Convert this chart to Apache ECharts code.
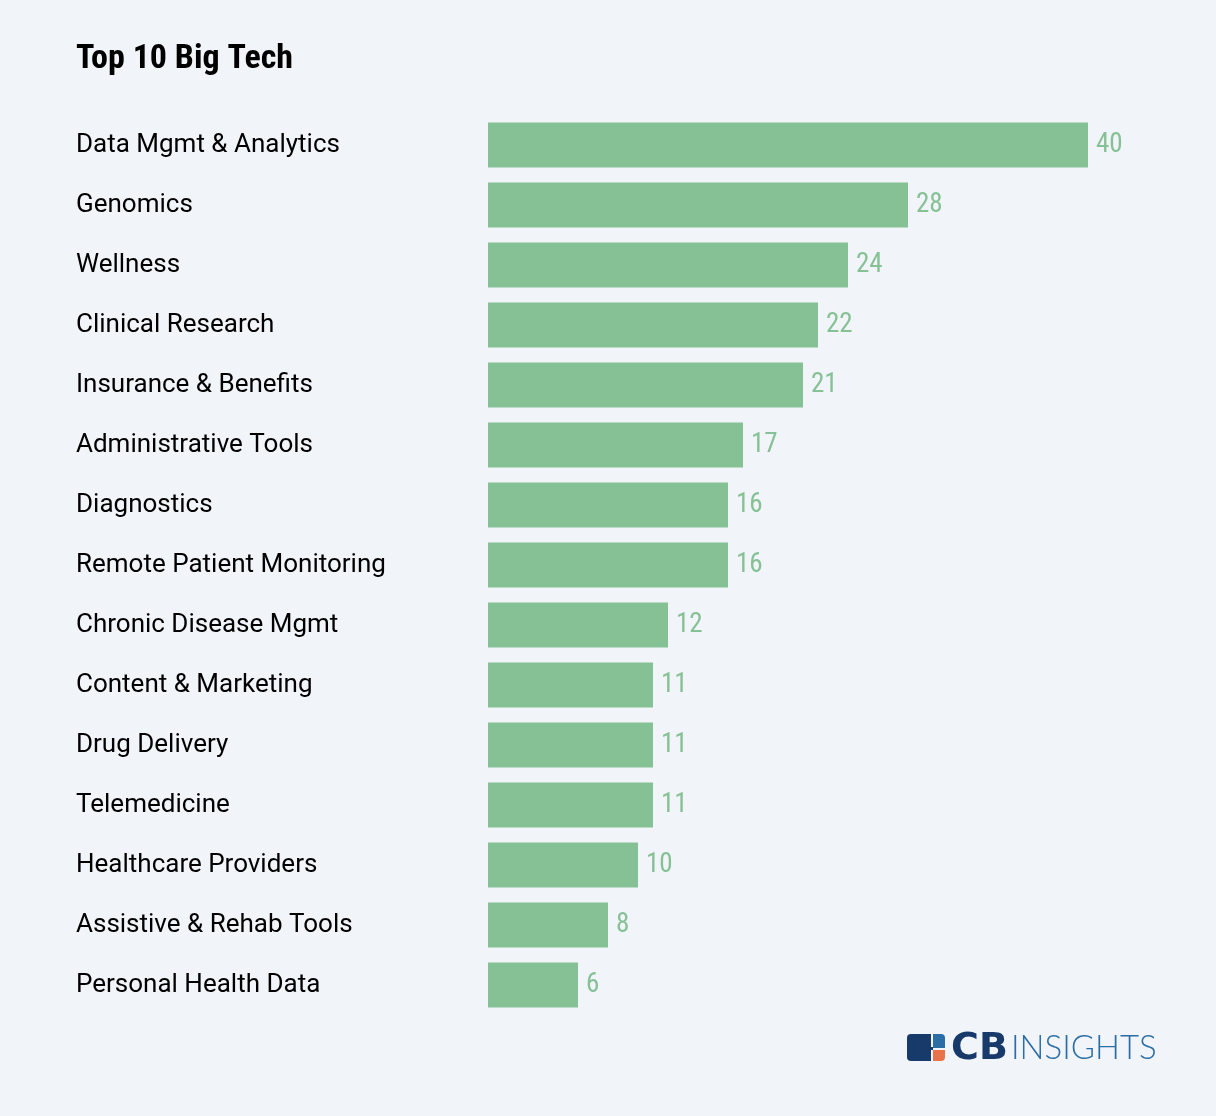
<!DOCTYPE html>
<html>
<head>
<meta charset="utf-8">
<script src="https://cdn.jsdelivr.net/npm/echarts@6/dist/echarts.min.js"></script>
<style>
html,body{margin:0;padding:0;background:#f1f4f8;}
#chart{width:1216px;height:1116px;}
</style>
</head>
<body>
<div id="chart"></div>
<script>
const title = 'Top 10 Big Tech';
const categories = ['Data Mgmt & Analytics','Genomics','Wellness','Clinical Research','Insurance & Benefits','Administrative Tools','Diagnostics','Remote Patient Monitoring','Chronic Disease Mgmt','Content & Marketing','Drug Delivery','Telemedicine','Healthcare Providers','Assistive & Rehab Tools','Personal Health Data'];
const values = [40,28,24,22,21,17,16,16,12,11,11,11,10,8,6];

const condensed = '"Roboto Condensed","DejaVu Sans Condensed","Liberation Sans Narrow",sans-serif';
const chart = echarts.init(document.getElementById('chart'), null, {renderer:'canvas'});
chart.setOption({
  backgroundColor:'#f1f4f8',
  animation:false,
  title:{
    text:title, left:71, top:37, padding:5,
    textStyle:{fontFamily:condensed, fontWeight:'bold', fontSize:34, color:'#000'}
  },
  grid:{left:488, right:128, top:115, height:900, containLabel:false},
  xAxis:{type:'value', min:0, max:40, show:false},
  yAxis:{
    type:'category', data:categories, inverse:true,
    axisLine:{show:false}, axisTick:{show:false},
    axisLabel:{align:'left', margin:412, fontFamily:'Roboto', fontSize:26, color:'#000'}
  },
  series:[{
    type:'bar', data:values, barWidth:45,
    itemStyle:{color:'#86c196'},
    label:{show:true, position:'right', distance:8, fontFamily:condensed, fontSize:27, color:'#86c196'}
  }],
  graphic:[
    {type:'rect', shape:{x:907,y:1034,width:24,height:27,r:[4,0,0,4]}, style:{fill:'#173a6a'}},
    {type:'rect', shape:{x:930,y:1047,width:3,height:3}, style:{fill:'#173a6a'}},
    {type:'rect', shape:{x:933,y:1034,width:12,height:14,r:[0,4,0,0]}, style:{fill:'#2b6ea6'}},
    {type:'rect', shape:{x:933,y:1050,width:12,height:11,r:[0,0,4,0]}, style:{fill:'#e8734a'}},
    {type:'text', left:951, top:1030, style:{text:'CB', fontFamily:'DejaVu Sans', fontWeight:'bold', fontSize:38, fill:'#173a6a'}},
    {type:'text', left:1011, top:1032, style:{text:'INSIGHTS', fontFamily:'Lato', fontWeight:300, fontSize:33, fill:'#2b6ea6'}}
  ]
});
</script>
</body>
</html>
